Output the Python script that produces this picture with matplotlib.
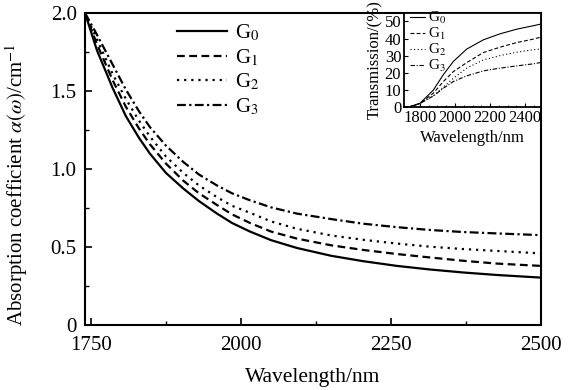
import matplotlib
matplotlib.use('Agg')
import matplotlib.pyplot as plt
from matplotlib.ticker import MultipleLocator

plt.rcParams['font.family'] = ['Liberation Serif', 'DejaVu Serif']
plt.rcParams['mathtext.fontset'] = 'stix'

# ---- main plot data (absorption coefficient) ----
wl = [1740, 1760, 1786, 1808, 1830, 1848, 1875, 1904, 1930, 1960, 1985,
      2015, 2050, 2093, 2150, 2204, 2260, 2315, 2370, 2426, 2500]
g0 = [2.0, 1.76, 1.52, 1.34, 1.20, 1.10, 0.975, 0.875, 0.795, 0.715, 0.655,
      0.60, 0.545, 0.495, 0.445, 0.41, 0.38, 0.357, 0.338, 0.322, 0.305]
g1 = [2.0, 1.80, 1.57, 1.40, 1.26, 1.16, 1.035, 0.925, 0.845, 0.77, 0.71,
      0.655, 0.60, 0.555, 0.512, 0.482, 0.456, 0.434, 0.413, 0.395, 0.38]
g2 = [2.0, 1.83, 1.61, 1.45, 1.31, 1.21, 1.08, 0.975, 0.895, 0.82, 0.765,
      0.72, 0.665, 0.618, 0.575, 0.547, 0.523, 0.503, 0.488, 0.476, 0.46]
g3 = [2.0, 1.86, 1.67, 1.51, 1.37, 1.27, 1.15, 1.045, 0.965, 0.895, 0.845,
      0.80, 0.755, 0.715, 0.68, 0.65, 0.628, 0.61, 0.597, 0.588, 0.577]

# ---- inset data (transmission) ----
wl_t = [1710, 1750, 1801, 1877, 1934, 1991, 2067, 2162, 2257, 2352, 2446, 2490]
t0 = [0, 0.5, 2.3, 10, 19, 26.7, 33.9, 39.3, 42.8, 45.5, 47.5, 48.5]
t1 = [0, 0.5, 2.3, 8.2, 15, 20.8, 26, 31.9, 35, 37.7, 39.7, 40.9]
t2 = [0, 0.5, 2.2, 6.6, 11.7, 16.9, 22.8, 27.6, 30.1, 32.1, 33.5, 34]
t3 = [0, 0.5, 2.2, 6.6, 11.1, 15, 18.3, 21.2, 22.8, 24.1, 25.3, 26.1]

labels = ['G$_0$', 'G$_1$', 'G$_2$', 'G$_3$']
styles = ['-', (0, (3.5, 2)), (0, (1, 2.2)), (0, (4, 1.5, 1, 1.5))]

fig = plt.figure(figsize=(5.78, 3.9), dpi=100)
ax = fig.add_axes([0.147, 0.166, 0.789, 0.801])

for y, ls, lab in zip([g0, g1, g2, g3], styles, labels):
    ax.plot(wl, y, color='black', lw=1.6, linestyle=ls, label=lab)

ax.set_xlim(1740, 2500)
ax.set_ylim(0, 2.0)
ax.set_xticks([1750, 2000, 2250, 2500])
ax.set_yticks([0, 0.5, 1.0, 1.5, 2.0])
ax.set_yticklabels(['0', '0.5', '1.0', '1.5', '2.0'])
ax.xaxis.set_minor_locator(MultipleLocator(125))
ax.yaxis.set_minor_locator(MultipleLocator(0.25))
ax.tick_params(which='both', direction='in', top=False, right=False, labelsize=15)
ax.tick_params(axis='x', pad=8)
ax.tick_params(axis='y', pad=6)
ax.tick_params(which='major', length=5, width=1.2)
ax.tick_params(which='minor', length=3, width=1.0)
for s in ax.spines.values():
    s.set_linewidth(1.5)
ax.set_xlabel('Wavelength/nm', fontsize=15.5, labelpad=9)
ax.set_ylabel(r'Absorption coefficient $\alpha(\omega)$/cm$^{-1}$', fontsize=15)
ax.yaxis.set_label_coords(-0.12, 0.45)

leg = ax.legend(loc='upper left', bbox_to_anchor=(0.16, 1.03), frameon=False,
                fontsize=15, handlelength=2.4, labelspacing=0.2, handletextpad=0.4)

# ---- inset ----
ins = fig.add_axes([0.699, 0.725, 0.237, 0.242])
for y, ls, lab in zip([t0, t1, t2, t3], styles, labels):
    ins.plot(wl_t, y, color='black', lw=0.8, linestyle=ls, label=lab)
ins.set_xlim(1710, 2490)
ins.set_ylim(0, 55)
ins.set_xticks([1800, 2000, 2200, 2400])
ins.set_yticks([0, 10, 20, 30, 40, 50])
ins.xaxis.set_minor_locator(MultipleLocator(50))
ins.tick_params(which='both', direction='in', top=False, right=False, labelsize=12, pad=2)
ins.tick_params(which='major', length=3, width=0.8)
ins.tick_params(which='minor', length=1.5, width=0.6)
for s in ins.spines.values():
    s.set_linewidth(1.3)
ins.set_xlabel('Wavelength/nm', fontsize=12, labelpad=3)
ins.set_ylabel('Transmission/(%)', fontsize=12, labelpad=1)
ins.legend(loc='upper left', bbox_to_anchor=(0.04, 1.03), frameon=False, fontsize=11,
           handlelength=1.0, labelspacing=0.0, handletextpad=0.2, borderpad=0.0,
           borderaxespad=0.0)

fig.savefig('out.png', dpi=100)
